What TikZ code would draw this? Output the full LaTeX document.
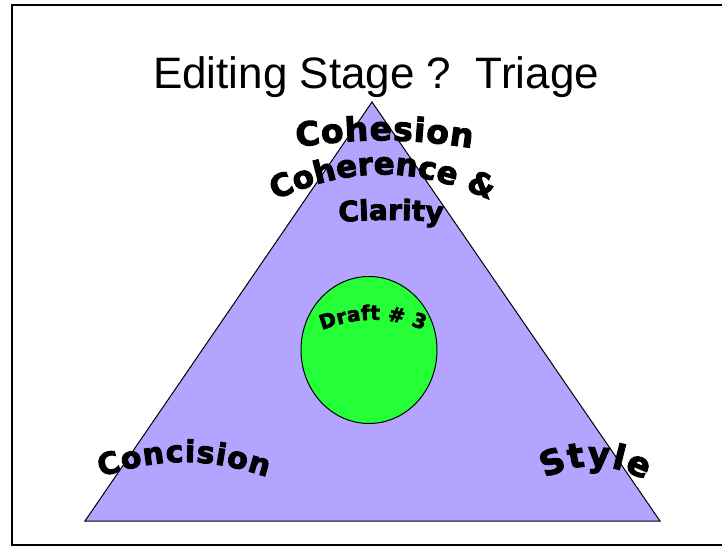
\documentclass[tikz,border=0pt]{standalone}
\usepackage{fontspec}
\setmainfont{Liberation Sans}
\newfontfamily\artfont{DejaVu Sans}[BoldFeatures={FakeBold=3}]
\usepackage{tikz}
\usetikzlibrary{shapes.geometric,decorations.text}
\definecolor{triviolet}{RGB}{178,164,255}
\definecolor{draftgreen}{RGB}{36,255,56}

\begin{document}
\begin{tikzpicture}[
    x=1pt, y=1pt,
    wordart/.style 2 args={
        decorate, decoration={text along path, text align=fit to path,
        text={|\artfont\bfseries\fontsize{#1}{#1}\selectfont|#2}}
    }
]
    \useasboundingbox (0,0) rectangle (722,546);
    \draw[line width=2pt] (740,1) -- (12,1) -- (12,541) -- (740,541);

    \node[anchor=base,font=\fontsize{44}{44}\selectfont] (title) at (376,457) {Editing Stage ?\ \ Triage};

    % Triangle and draft
    \coordinate (apex) at (372,444);
    \coordinate (left) at (85,25);
    \coordinate (right) at (660,25);
    \draw[fill=triviolet,line width=1pt] (apex) -- (left) -- (right) -- cycle;
    \node[ellipse,draw,fill=draftgreen,line width=1pt,minimum width=136pt,minimum height=147pt,inner sep=0pt] (draft) at (369,196) {};

    % Word art
    \path[wordart={33}{Cohesion}] (297,399) to[bend left=8] (472,398);
    \path[wordart={31}{Coherence {\&}}] (275,346) to[bend left=24] (490,346);
    \path[wordart={28}{Clarity}] (339,324) to[bend left=4] (441,324);
    \path[wordart={20}{Draft {\#} 3}] (322,216) to[bend left=20] (424,216);
    \path[wordart={30}{Concision}] (101,69) to[bend left=18] (267,69);
    \path[wordart={34}{Style}] (545,68) to[bend left=26] (645,66);
\end{tikzpicture}
\end{document}
